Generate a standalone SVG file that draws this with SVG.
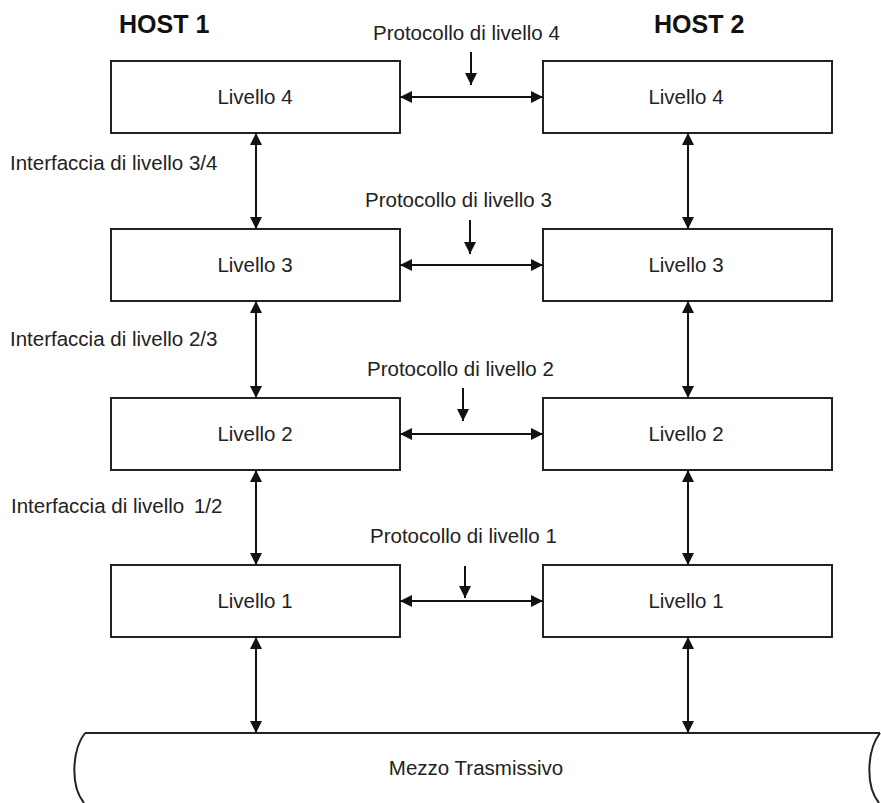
<svg xmlns="http://www.w3.org/2000/svg" width="881" height="803" viewBox="0 0 881 803">
  <defs>
    <marker id="head" viewBox="0 0 10 10" refX="10" refY="5" markerWidth="12" markerHeight="12" markerUnits="userSpaceOnUse" orient="auto-start-reverse">
      <path d="M0,0 L10,5 L0,10 z" fill="#111"/>
    </marker>
    <style>
      .box { fill: #fff; stroke: #222; stroke-width: 2; }
      .lbl { font-family: "Liberation Sans", Arial, sans-serif; font-size: 20.5px; fill: #222; }
      .mid { text-anchor: middle; }
      .host { font-family: "Liberation Sans", Arial, sans-serif; font-size: 25px; font-weight: bold; fill: #111; }
      .link { stroke: #111; stroke-width: 2; fill: none; marker-start: url(#head); marker-end: url(#head); }
      .down { stroke: #111; stroke-width: 2; fill: none; marker-end: url(#head); }
      .medium { stroke: #222; stroke-width: 2; fill: none; }
    </style>
  </defs>

  <rect width="881" height="803" fill="#fff"/>

  <!-- Host headings -->
  <text class="host" x="119" y="33">HOST 1</text>
  <text class="host" x="654" y="33">HOST 2</text>

  <!-- Host 1 stack -->
  <g id="h1-l4"><rect class="box" x="111" y="61" width="289" height="72"/><text class="lbl mid" x="255" y="104">Livello 4</text></g>
  <g id="h1-l3"><rect class="box" x="111" y="229" width="289" height="72"/><text class="lbl mid" x="255" y="272">Livello 3</text></g>
  <g id="h1-l2"><rect class="box" x="111" y="398" width="289" height="72"/><text class="lbl mid" x="255" y="441">Livello 2</text></g>
  <g id="h1-l1"><rect class="box" x="111" y="565" width="289" height="72"/><text class="lbl mid" x="255" y="608">Livello 1</text></g>

  <!-- Host 2 stack -->
  <g id="h2-l4"><rect class="box" x="543" y="61" width="289" height="72"/><text class="lbl mid" x="686" y="104">Livello 4</text></g>
  <g id="h2-l3"><rect class="box" x="543" y="229" width="289" height="72"/><text class="lbl mid" x="686" y="272">Livello 3</text></g>
  <g id="h2-l2"><rect class="box" x="543" y="398" width="289" height="72"/><text class="lbl mid" x="686" y="441">Livello 2</text></g>
  <g id="h2-l1"><rect class="box" x="543" y="565" width="289" height="72"/><text class="lbl mid" x="686" y="608">Livello 1</text></g>

  <!-- Transmission medium -->
  <g id="medium">
    <path class="medium" d="M85,733 L880,733"/>
    <path class="medium" d="M85,733 C72,750 70,786 84,803"/>
    <path class="medium" d="M880,733 C867,750 865,786 879,803"/>
    <text class="lbl mid" x="476" y="775">Mezzo Trasmissivo</text>
  </g>

  <!-- Labels -->
  <g id="labels">
    <text class="lbl" x="373" y="40">Protocollo di livello 4</text>
    <text class="lbl" x="365" y="207">Protocollo di livello 3</text>
    <text class="lbl" x="367" y="376">Protocollo di livello 2</text>
    <text class="lbl" x="370" y="543">Protocollo di livello 1</text>
    <text class="lbl" x="10" y="170">Interfaccia di livello 3/4</text>
    <text class="lbl" x="10" y="346">Interfaccia di livello 2/3</text>
    <text class="lbl" x="11" y="513">Interfaccia di livello <tspan dx="4">1/2</tspan></text>
  </g>

  <!-- Connectors -->
  <g id="connectors">
    <!-- peer protocols -->
    <line class="link" x1="400" y1="97" x2="543" y2="97"/>
    <line class="link" x1="400" y1="265" x2="543" y2="265"/>
    <line class="link" x1="400" y1="434" x2="543" y2="434"/>
    <line class="link" x1="400" y1="601" x2="543" y2="601"/>
    <line class="down" x1="471" y1="52" x2="471" y2="85"/>
    <line class="down" x1="470" y1="220" x2="470" y2="254"/>
    <line class="down" x1="463" y1="388" x2="463" y2="421"/>
    <line class="down" x1="465" y1="566" x2="465" y2="598"/>
    <!-- interfaces host 1 -->
    <line class="link" x1="256" y1="133" x2="256" y2="229"/>
    <line class="link" x1="256" y1="301" x2="256" y2="398"/>
    <line class="link" x1="256" y1="470" x2="256" y2="565"/>
    <line class="link" x1="256" y1="637" x2="256" y2="733"/>
    <!-- interfaces host 2 -->
    <line class="link" x1="688" y1="133" x2="688" y2="229"/>
    <line class="link" x1="688" y1="301" x2="688" y2="398"/>
    <line class="link" x1="688" y1="470" x2="688" y2="565"/>
    <line class="link" x1="688" y1="637" x2="688" y2="733"/>
  </g>
</svg>
